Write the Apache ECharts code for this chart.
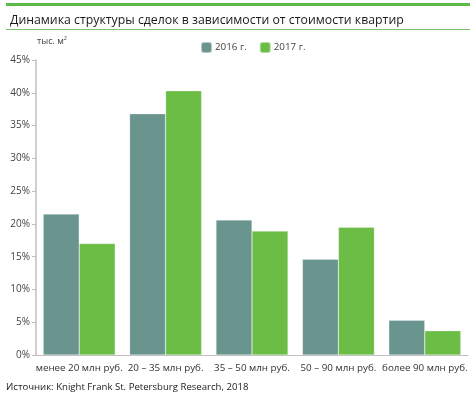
<!DOCTYPE html>
<html>
<head>
<meta charset="utf-8">
<script src="https://cdn.jsdelivr.net/npm/echarts@6/dist/echarts.min.js"></script>
<style>
    html, body { margin: 0; padding: 0; background: #fff; }
    #chart { width: 476px; height: 397px; }
</style>
</head>
<body>
<div id="chart"></div>
<script>
// категории и значения (доля сделок, %)
const categories = ['менее 20 млн руб.', '20 – 35 млн руб.', '35 – 50 млн руб.', '50 – 90 млн руб.', 'более 90 млн руб.'];
const values2016 = [21.5, 36.8, 20.6, 14.6, 5.3];
const values2017 = [17.0, 40.3, 18.9, 19.5, 3.7];
const seriesNames = ['2016 г.', '2017 г.'];

const font = '"Open Sans", "Noto Sans", sans-serif';
const chart = echarts.init(document.getElementById('chart'));

chart.setOption({
    animation: false,
    textStyle: { fontFamily: font },
    title: {
        text: 'Динамика структуры сделок в зависимости от стоимости квартир',
        left: 5,
        top: 9,
        textStyle: { fontSize: 12.3, fontWeight: 'normal', color: '#1a1a1a', fontFamily: font }
    },
    graphic: [
        { type: 'rect', shape: { x: 6, y: 3, width: 464, height: 3 }, style: { fill: '#5cb84a' } },
        { type: 'rect', shape: { x: 6, y: 29, width: 464, height: 1 }, style: { fill: '#7cc46a' } },
        { type: 'text', left: 37, top: 37, style: { text: 'тыс. м²', fontSize: 9, fill: '#444', fontFamily: font } },
        { type: 'text', left: 6, top: 382, style: { text: 'Источник: Knight Frank St. Petersburg Research, 2018', fontSize: 9.6, fill: '#1a1a1a', fontFamily: font } }
    ],
    legend: {
        data: seriesNames,
        top: 36,
        left: 195,
        itemWidth: 11,
        itemHeight: 11,
        itemGap: 12,
        textStyle: { fontSize: 9.8, color: '#444', padding: [0, 0, 0, -2] }
    },
    grid: { left: 36, right: 8, top: 60, bottom: 42, containLabel: false },
    xAxis: {
        type: 'category',
        data: categories,
        axisLine: { lineStyle: { color: '#bfbfbf' } },
        axisTick: { length: 4, lineStyle: { color: '#bfbfbf' } },
        axisLabel: { fontSize: 9.8, color: '#333', interval: 0, margin: 8 }
    },
    yAxis: {
        type: 'value',
        min: 0,
        max: 45,
        interval: 5,
        axisLine: { show: true, lineStyle: { color: '#bfbfbf', width: 1.5 } },
        axisTick: { show: true, length: 4, lineStyle: { color: '#bfbfbf' } },
        axisLabel: { fontSize: 10, color: '#444', formatter: '{value}%', margin: 6 },
        splitLine: { show: false }
    },
    series: [
        {
            name: seriesNames[0],
            type: 'bar',
            data: values2016,
            barWidth: 36,
            barGap: '0%',
            itemStyle: { color: '#6a958f', borderColor: 'rgba(255,255,255,0.5)', borderWidth: 0.5 }
        },
        {
            name: seriesNames[1],
            type: 'bar',
            data: values2017,
            barWidth: 36,
            itemStyle: { color: '#6bbd45', borderColor: 'rgba(255,255,255,0.5)', borderWidth: 0.5 }
        }
    ]
});
</script>
</body>
</html>
